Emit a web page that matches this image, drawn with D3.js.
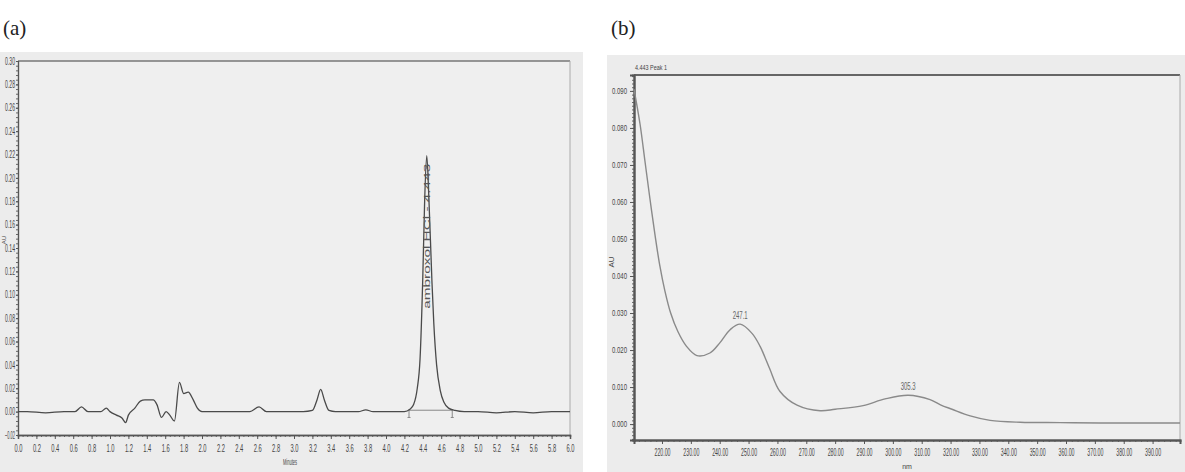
<!DOCTYPE html>
<html>
<head>
<meta charset="utf-8">
<script src="https://cdn.jsdelivr.net/npm/d3@7"></script>
<style>
  body { margin: 0; background: #fff; }
  text { font-family: "Liberation Sans", Arial, sans-serif; }
</style>
</head>
<body>
<div id="chart"></div>
<script>
// Chromatogram (a): retention time (min) vs AU
const chromTime = [0.00, 0.10, 0.30, 0.50, 0.62, 0.69, 0.76, 0.90, 0.96, 1.00, 1.07, 1.13, 1.17, 1.20, 1.27,
  1.33, 1.38, 1.47, 1.51, 1.56, 1.61, 1.65, 1.70, 1.755, 1.80, 1.85, 1.905, 1.95, 2.00, 2.20, 2.40, 2.52,
  2.62, 2.70, 2.90, 3.10, 3.20, 3.25, 3.29, 3.33, 3.38, 3.45, 3.70, 3.78, 3.86, 4.10, 4.20, 4.26, 4.30,
  4.34, 4.37, 4.40, 4.42, 4.443, 4.465, 4.50, 4.52, 4.55, 4.59, 4.63, 4.68, 4.75, 4.85, 5.00, 5.20, 5.40,
  5.60, 5.80, 6.00];
const chromAU = [0.000, 0.000, -0.001, 0.000, 0.000, 0.004, 0.000, 0.000, 0.003, 0.000, -0.003, -0.0055, -0.0094, -0.003, 0.003,
  0.009, 0.010, 0.010, 0.006, -0.005, 0.000, -0.003, -0.008, 0.025, 0.0155, 0.0166, 0.010, 0.003, 0.000, 0.000, 0.000, 0.000,
  0.004, 0.000, 0.000, 0.000, 0.001, 0.010, 0.019, 0.010, 0.001, 0.000, 0.000, 0.0015, 0.000, 0.000, 0.000, 0.002, 0.006,
  0.020, 0.045, 0.115, 0.180, 0.219, 0.185, 0.110, 0.075, 0.040, 0.018, 0.008, 0.003, 0.001, 0.000, 0.000, -0.001, 0.000,
  -0.001, 0.000, 0.000];
const chromXTicks = d3.range(0, 31).map(i => i * 0.2);
const chromYTicks = d3.range(-1, 16).map(i => i * 0.02);
const peakLabel = "ambroxol HCl - 4.443";

// UV spectrum (b): wavelength (nm) vs AU
const specNm = [210.3, 212.4, 214.1, 215.8, 217.6, 219.2, 221.0, 223.0, 225.5, 228.5, 232.1, 236.6, 240.1, 243.6,
  247.1, 251.2, 254.0, 255.7, 257.4, 260.9, 266.8, 274.8, 280.0, 289.7, 297.3, 305.3, 312.9, 316.5, 320.5, 326.8,
  333.7, 344.1, 358.0, 371.8, 399.5];
const specAU = [0.0905, 0.081, 0.071, 0.061, 0.051, 0.043, 0.036, 0.030, 0.025, 0.021, 0.0185, 0.0192, 0.022, 0.0255,
  0.027, 0.0245, 0.021, 0.018, 0.0148, 0.0088, 0.0051, 0.0036, 0.0040, 0.0050, 0.0068, 0.0078, 0.0066, 0.0052, 0.0040, 0.0022,
  0.0010, 0.0005, 0.0004, 0.0003, 0.0003];
const specXTicks = d3.range(22, 40).map(i => i * 10);
const specYTicks = d3.range(0, 10).map(i => i * 0.01);
const specPeaks = [{ nm: 247.1, au: 0.027, label: "247.1" }, { nm: 305.3, au: 0.0078, label: "305.3" }];

const W = 1185, H = 472;
const svg = d3.select("#chart").append("svg")
  .attr("width", W)
  .attr("height", H);

// gray screenshot panels
svg.append("rect").attr("x", 0).attr("y", 52).attr("width", 583).attr("height", H - 52).attr("fill", "#ececec");
svg.append("rect").attr("x", 607).attr("y", 55).attr("width", W - 607).attr("height", H - 55).attr("fill", "#ececec");

// panel titles
svg.append("text").attr("x", 3).attr("y", 35)
  .style("font-family", "'Liberation Serif', 'Times New Roman', serif")
  .style("font-size", "21px").attr("fill", "#222").text("(a)");
svg.append("text").attr("x", 611).attr("y", 35)
  .style("font-family", "'Liberation Serif', 'Times New Roman', serif")
  .style("font-size", "21px").attr("fill", "#222").text("(b)");

function styleAxis(g, color, width) {
  g.select(".domain").attr("stroke", color).attr("stroke-width", width);
  g.selectAll(".tick line").attr("stroke", color);
  g.selectAll(".tick text").attr("fill", "#444");
}

// ---------- (a) chromatogram ----------
const xA = d3.scaleLinear().domain([0, 6]).range([18, 570]);
const yA = d3.scaleLinear().domain([-0.02, 0.30]).range([435, 61]);

const gA = svg.append("g");
gA.append("rect")
  .attr("x", xA(0)).attr("y", yA(0.30))
  .attr("width", xA(6) - xA(0)).attr("height", yA(-0.02) - yA(0.30))
  .attr("fill", "#efefef");
gA.append("line").attr("x1", xA(0)).attr("x2", xA(6)).attr("y1", yA(0.30)).attr("y2", yA(0.30))
  .attr("stroke", "#777").attr("stroke-width", 1.5);
gA.append("line").attr("x1", xA(6)).attr("x2", xA(6)).attr("y1", yA(0.30)).attr("y2", yA(-0.02))
  .attr("stroke", "#aaa").attr("stroke-width", 1);

// minor ticks
gA.append("g").attr("transform", `translate(0,${yA(-0.02)})`)
  .call(d3.axisBottom(xA).tickValues(d3.range(0, 121).map(i => i * 0.05)).tickSize(2).tickFormat(""))
  .call(g => styleAxis(g, "#666", 1.5));
gA.append("g").attr("transform", `translate(${xA(0)},0)`)
  .call(d3.axisLeft(yA).tickValues(d3.range(-5, 76).map(i => i * 0.004)).tickSize(2).tickFormat(""))
  .call(g => styleAxis(g, "#666", 1.2));

// major ticks + labels
const axA_x = gA.append("g").attr("transform", `translate(0,${yA(-0.02)})`)
  .call(d3.axisBottom(xA).tickValues(chromXTicks).tickSize(4).tickPadding(5).tickFormat(d3.format(".1f")))
  .call(g => styleAxis(g, "#555", 1.5));
axA_x.selectAll(".tick text").style("font-size", "11px")
  .attr("textLength", 8).attr("lengthAdjust", "spacingAndGlyphs");

const axA_y = gA.append("g").attr("transform", `translate(${xA(0)},0)`)
  .call(d3.axisLeft(yA).tickValues(chromYTicks).tickSize(2).tickPadding(1).tickFormat(d3.format(".2f")))
  .call(g => styleAxis(g, "#555", 1.2));
axA_y.selectAll(".tick text").style("font-size", "10px")
  .attr("textLength", 10).attr("lengthAdjust", "spacingAndGlyphs");

gA.append("text").attr("x", 290).attr("y", 465).attr("text-anchor", "middle")
  .style("font-size", "9px").attr("fill", "#444").attr("textLength", 14).attr("lengthAdjust", "spacingAndGlyphs")
  .text("Minutes");
gA.append("text").attr("transform", "translate(5.5,240) rotate(-90)").attr("text-anchor", "middle")
  .style("font-size", "6px").attr("fill", "#444").text("AU");

// integration baseline and markers
gA.append("line").attr("x1", xA(4.25)).attr("x2", xA(4.72)).attr("y1", yA(0.0012)).attr("y2", yA(0.0012))
  .attr("stroke", "#888").attr("stroke-width", 1);
[4.25, 4.72].forEach(t => {
  gA.append("line").attr("x1", xA(t)).attr("x2", xA(t)).attr("y1", yA(0.002)).attr("y2", yA(-0.005))
    .attr("stroke", "#888").attr("stroke-width", 1);
  gA.append("line").attr("x1", xA(t) - 1.5).attr("x2", xA(t) + 1.5).attr("y1", yA(-0.005)).attr("y2", yA(-0.005))
    .attr("stroke", "#888").attr("stroke-width", 1);
});

const lineA = d3.line()
  .x((d, i) => xA(chromTime[i]))
  .y(d => yA(d))
  .curve(d3.curveMonotoneX);
gA.append("path").datum(chromAU)
  .attr("d", lineA)
  .attr("fill", "none")
  .attr("stroke", "#4a4a4a")
  .attr("stroke-width", 1.3);

gA.append("text")
  .attr("transform", `translate(${xA(4.443) + 3},${yA(0.088)}) rotate(-90)`)
  .attr("text-anchor", "start")
  .style("font-size", "9px").attr("fill", "#555")
  .attr("textLength", 145).attr("lengthAdjust", "spacingAndGlyphs")
  .text(peakLabel);

// ---------- (b) UV spectrum ----------
const xB = d3.scaleLinear().domain([210.3, 399.5]).range([634, 1180]);
const yB = d3.scaleLinear().domain([-0.0043, 0.0943]).range([440, 75]);

const gB = svg.append("g");
gB.append("rect")
  .attr("x", xB(210.3)).attr("y", yB(0.0943))
  .attr("width", xB(399.5) - xB(210.3)).attr("height", yB(-0.0043) - yB(0.0943))
  .attr("fill", "#efefef");
gB.append("line").attr("x1", xB(210.3)).attr("x2", xB(399.5)).attr("y1", yB(0.0943)).attr("y2", yB(0.0943))
  .attr("stroke", "#666").attr("stroke-width", 2);
gB.append("line").attr("x1", xB(399.5)).attr("x2", xB(399.5)).attr("y1", yB(0.0943)).attr("y2", yB(-0.0043))
  .attr("stroke", "#aaa").attr("stroke-width", 1);

gB.append("g").attr("transform", `translate(0,${yB(-0.0043)})`)
  .call(d3.axisBottom(xB).tickValues(d3.range(106, 200).map(i => i * 2)).tickSize(2).tickFormat(""))
  .call(g => styleAxis(g, "#666", 2));
gB.append("g").attr("transform", `translate(${xB(210.3)},0)`)
  .call(d3.axisLeft(yB).tickValues(d3.range(-4, 95).map(i => i * 0.001)).tickSize(2).tickFormat(""))
  .call(g => styleAxis(g, "#666", 2));

const axB_x = gB.append("g").attr("transform", `translate(0,${yB(-0.0043)})`)
  .call(d3.axisBottom(xB).tickValues(specXTicks).tickSize(4).tickPadding(5).tickFormat(d3.format(".2f")))
  .call(g => styleAxis(g, "#555", 2));
axB_x.selectAll(".tick text").style("font-size", "10px")
  .attr("textLength", 16).attr("lengthAdjust", "spacingAndGlyphs");

const axB_y = gB.append("g").attr("transform", `translate(${xB(210.3)},0)`)
  .call(d3.axisLeft(yB).tickValues(specYTicks).tickSize(4).tickPadding(3).tickFormat(d3.format(".3f")))
  .call(g => styleAxis(g, "#555", 2));
axB_y.selectAll(".tick text").style("font-size", "9px")
  .attr("textLength", 15).attr("lengthAdjust", "spacingAndGlyphs");

gB.append("text").attr("x", xB(210.3) + 1).attr("y", 70)
  .style("font-size", "8px").attr("fill", "#444").attr("textLength", 32).attr("lengthAdjust", "spacingAndGlyphs")
  .text("4.443 Peak 1");
gB.append("text").attr("x", 907).attr("y", 469).attr("text-anchor", "middle")
  .style("font-size", "7px").attr("fill", "#444").text("nm");
gB.append("text").attr("transform", "translate(614,262) rotate(-90)").attr("text-anchor", "middle")
  .style("font-size", "8px").attr("fill", "#444").text("AU");

const lineB = d3.line()
  .x((d, i) => xB(specNm[i]))
  .y(d => yB(d))
  .curve(d3.curveCatmullRom.alpha(0.5));
gB.append("path").datum(specAU)
  .attr("d", lineB)
  .attr("fill", "none")
  .attr("stroke", "#8a8a8a")
  .attr("stroke-width", 1.4);

gB.selectAll("text.peak")
  .data(specPeaks)
  .join("text")
  .attr("class", "peak")
  .attr("x", d => xB(d.nm))
  .attr("y", d => yB(d.au) - 5)
  .attr("text-anchor", "middle")
  .style("font-size", "10px")
  .attr("fill", "#666")
  .attr("textLength", 15).attr("lengthAdjust", "spacingAndGlyphs")
  .text(d => d.label);
</script>
</body>
</html>
